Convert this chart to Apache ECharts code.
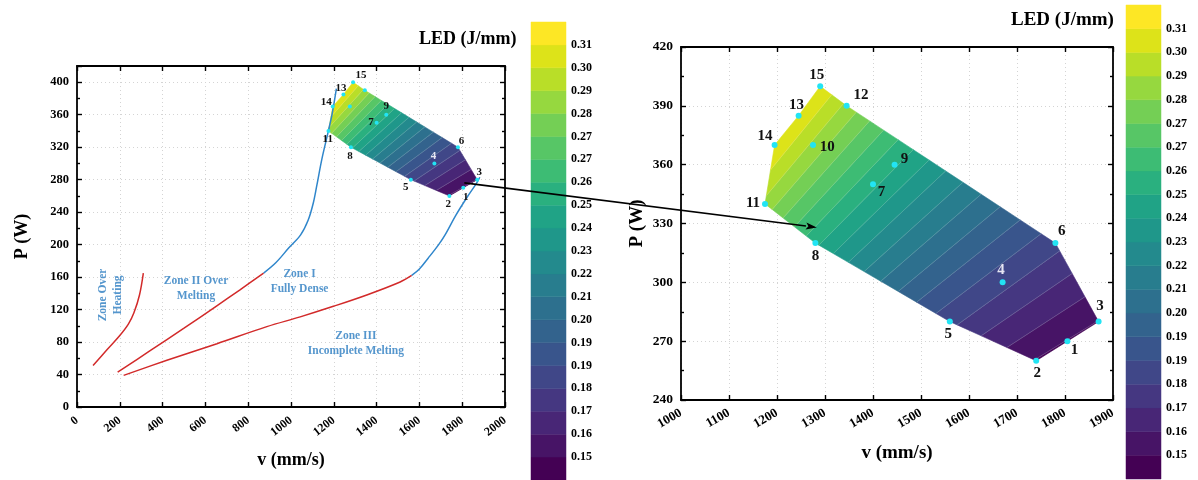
<!DOCTYPE html>
<html>
<head>
<meta charset="utf-8">
<title>LED process window</title>
<script src="https://cdn.jsdelivr.net/npm/echarts/dist/echarts.min.js"></script>
<style>
  html, body { margin: 0; padding: 0; background: #fff; }
  #chart { width: 1198px; height: 480px; }
</style>
</head>
<body>
<div id="chart"></div>
<script>
// ---- measured parameter sets: scan speed v (mm/s) and laser power P (W) ----
const pointIds = [1, 2, 3, 4, 5, 6, 7, 8, 9, 10, 11, 12, 13, 14, 15];
const speed = [1805, 1740, 1870, 1670, 1560, 1780, 1400, 1280, 1445, 1275, 1175, 1345, 1245, 1195, 1290];
const power = [270, 260, 280, 300, 280, 320, 350, 320, 360, 370, 340, 390, 385, 370, 400];
// outline of the sampled region, walked clockwise by point id
const hullIds = [15, 12, 6, 3, 1, 2, 5, 8, 11, 14, 13];

// ---- LED colour scale ----
const ledTickLabels = ['0.15', '0.16', '0.17', '0.18', '0.19', '0.19', '0.20', '0.21', '0.22', '0.23',
                       '0.24', '0.25', '0.26', '0.27', '0.27', '0.28', '0.29', '0.30', '0.31'];
const ledFirstLevel = 0.15;
const ledLastLevel = 0.31;

// ---- process-window boundaries [v, P] ----
const overHeatingCurve = [[75, 51], [140, 70.5], [200, 88], [240, 102], [266, 116], [292, 138], [310, 165]];
const overMeltingCurve = [[190, 43], [340, 69], [500, 97], [650, 124], [760, 144], [872, 165]];
const denseUpperCurve = [[872, 165], [930, 178], [990, 196], [1045, 212], [1080, 230], [1103, 250],
                         [1120, 272], [1144, 305], [1172, 337], [1193, 362], [1212, 392]];
const incompleteCurve = [[218, 39], [420, 57.5], [654, 78], [887, 99], [1043, 111], [1198, 124],
                         [1354, 138], [1510, 154], [1564, 162]];
const denseLowerCurve = [[1564, 162], [1600, 170], [1640, 183], [1690, 200], [1720, 212], [1770, 236],
                         [1822, 258], [1868, 276], [1882, 283]];

// ---- zone annotations ----
const zoneTexts = ['Zone Over\nHeating', 'Zone II Over\nMelting', 'Zone I\nFully Dense', 'Zone III\nIncomplete Melting'];
const zoneSpeed = [159, 556, 1040, 1303];
const zonePower = [138, 146, 154, 78];

// ---- zoom arrow: from the overview to the detailed view ----
const arrowFrom = [1810, 276];
const arrowTo = [1283, 328];

// ================= styling =================
const SERIF = '"Liberation Serif", "Times New Roman", serif';
const BLUE_LINE = '#2f86cb';
const BLUE_TEXT = '#2b7cc0';
const RED_LINE = '#d22a2a';
const CYAN = '#22e4f4';
const viridis = ['#440154', '#471365', '#482475', '#463480', '#414487', '#3b528b', '#355f8d', '#2f6c8e',
                 '#2a788e', '#25848e', '#21918c', '#1e9c89', '#22a884', '#2fb47c', '#44bf70', '#5ec962',
                 '#7ad151', '#9bd93c', '#bddf26', '#dfe318', '#fde725'];

// label placement per point id (pixel offsets from the marker centre)
const overviewLabelOffset = {1: [2.5, 9.5], 2: [-1, 8.5], 3: [2, -8], 4: [-1, -7.6], 5: [-5, 7], 6: [3.5, -6.5],
  7: [-5.5, -1], 8: [-1, 9.2], 9: [0, -8.2], 11: [-0.7, 8.5], 13: [-2.4, -6], 14: [-6.5, -4.5], 15: [8, -7.3]};
const detailLabelOffset = {1: [7, 9], 2: [1, 12.8], 3: [1.5, -15], 4: [-1.5, -12.2], 5: [-1.5, 12.5], 6: [6.3, -11.5],
  7: [8.6, 7.5], 8: [0, 13.5], 9: [9.8, -5.5], 10: [14.3, 1.8], 11: [-12, -0.7], 12: [14.4, -11], 13: [-2, -10.5],
  14: [-9.5, -9], 15: [-3.5, -10.7]};

// ================= helpers =================
function hexToRgb(h) { return [parseInt(h.slice(1, 3), 16), parseInt(h.slice(3, 5), 16), parseInt(h.slice(5, 7), 16)]; }
function viridisAt(t) {
  const x = Math.max(0, Math.min(1, t)) * (viridis.length - 1);
  const i = Math.min(viridis.length - 2, Math.floor(x));
  const f = x - i;
  const a = hexToRgb(viridis[i]), b = hexToRgb(viridis[i + 1]);
  const c = a.map((v, k) => Math.round(v + (b[k] - v) * f));
  return 'rgb(' + c.join(',') + ')';
}

// level edges: labelled levels plus one band beyond each end
const levelStep = (ledLastLevel - ledFirstLevel) / (ledTickLabels.length - 1);
const bandCount = ledTickLabels.length + 1;
const levelEdges = [];
for (let k = 0; k <= bandCount; k++) levelEdges.push(ledFirstLevel + (k - 1) * levelStep);
const bandColors = [];
for (let k = 0; k < bandCount; k++) bandColors.push(viridisAt(k / (bandCount - 1)));

const idx = id => pointIds.indexOf(id);
const hullPoly = hullIds.map(id => [speed[idx(id)], power[idx(id)]]);

// keep the part of a polygon where a*v + b*P >= 0
function clipHalfPlane(poly, a, b) {
  const out = [];
  for (let i = 0; i < poly.length; i++) {
    const p = poly[i], q = poly[(i + 1) % poly.length];
    const fp = a * p[0] + b * p[1], fq = a * q[0] + b * q[1];
    if (fp >= 0) out.push(p);
    if ((fp >= 0) !== (fq >= 0)) {
      const t = fp / (fp - fq);
      out.push([p[0] + t * (q[0] - p[0]), p[1] + t * (q[1] - p[1])]);
    }
  }
  return out;
}
// LED = P / v, so each band is the wedge lo <= P/v <= hi
const bandPolys = [];
for (let k = 0; k < bandCount; k++) {
  let poly = clipHalfPlane(hullPoly, -levelEdges[k], 1);
  poly = clipHalfPlane(poly, levelEdges[k + 1], -1);
  bandPolys.push(poly);
}
// iso-LED lines inside the region
const contourSegs = [];
for (let k = 1; k < bandCount; k++) {
  const c = levelEdges[k];
  const hits = [];
  for (let i = 0; i < hullPoly.length; i++) {
    const p = hullPoly[i], q = hullPoly[(i + 1) % hullPoly.length];
    const fp = p[1] - c * p[0], fq = q[1] - c * q[0];
    if ((fp >= 0) !== (fq >= 0)) {
      const t = fp / (fp - fq);
      hits.push([p[0] + t * (q[0] - p[0]), p[1] + t * (q[1] - p[1])]);
    }
  }
  hits.sort((a, b) => a[0] - b[0]);
  for (let j = 0; j + 1 < hits.length; j += 2) contourSegs.push([hits[j], hits[j + 1]]);
}

// ================= axes =================
const axisLine = { onZero: false, lineStyle: { color: '#000', width: 1.8 } };
const tickStyle = { color: '#000', width: 1.4 };
const gridLine = { show: true, lineStyle: { color: '#d4d4d4', width: 1, type: [1, 3] } };
const tickFont = size => ({ fontFamily: SERIF, fontWeight: 'bold', fontSize: size, color: '#000' });
const nameFont = size => ({ fontFamily: SERIF, fontWeight: 'bold', fontSize: size, color: '#000' });

function xPair(grid, min, max, interval, rotate, fontSize, nameSize, nameGap) {
  return [
    { gridIndex: grid, type: 'value', position: 'bottom', min, max, interval,
      axisLine, axisTick: { inside: true, length: 5, lineStyle: tickStyle },
      axisLabel: Object.assign({ rotate, margin: 12, formatter: v => String(v) }, tickFont(fontSize)),
      splitLine: gridLine,
      name: 'v (mm/s)', nameLocation: 'middle', nameGap, nameTextStyle: nameFont(nameSize) },
    { gridIndex: grid, type: 'value', position: 'top', min, max, interval,
      axisLine, axisTick: { inside: true, length: 5, lineStyle: tickStyle },
      axisLabel: { show: false }, splitLine: { show: false } }
  ];
}
function yPair(grid, min, max, interval, fontSize, nameSize, nameGap, hideTop) {
  const minorTick = { show: true, splitNumber: 2, length: 3, lineStyle: tickStyle };
  return [
    { gridIndex: grid, type: 'value', position: 'left', min, max, interval,
      axisLine, axisTick: { inside: true, length: 5, lineStyle: tickStyle }, minorTick,
      axisLabel: Object.assign({ margin: 8, formatter: v => (hideTop && v === max) ? '' : String(v) }, tickFont(fontSize)),
      splitLine: gridLine,
      name: 'P (W)', nameLocation: 'middle', nameGap, nameTextStyle: nameFont(nameSize) },
    { gridIndex: grid, type: 'value', position: 'right', min, max, interval,
      axisLine, axisTick: { inside: true, length: 5, lineStyle: tickStyle }, minorTick,
      axisLabel: { show: false }, splitLine: { show: false } }
  ];
}
function colorbarAxes(grid) {
  return {
    x: { gridIndex: grid, type: 'value', min: 0, max: 1, show: false },
    y: { gridIndex: grid, type: 'value', min: 0, max: bandCount, interval: 1, position: 'right',
         axisLine: { show: false }, axisTick: { show: false }, splitLine: { show: false },
         axisLabel: Object.assign({ margin: 5,
           formatter: v => (v >= 1 && v <= ledTickLabels.length) ? ledTickLabels[v - 1] : '' }, tickFont(12)) }
  };
}
const cbL = colorbarAxes(2), cbR = colorbarAxes(3);

// ================= series builders =================
function contourSeries(xi, yi) {
  return {
    type: 'custom', xAxisIndex: xi, yAxisIndex: yi, clip: true, z: 2,
    data: bandPolys.map((p, k) => [k, k]),
    renderItem: (params, api) => {
      const k = params.dataIndex;
      const poly = bandPolys[k];
      if (poly.length < 3) return null;
      return { type: 'polygon', shape: { points: poly.map(p => api.coord(p)) },
               style: { fill: bandColors[k], stroke: bandColors[k], lineWidth: 0.6 } };
    }
  };
}
function contourLineSeries(xi, yi) {
  return {
    type: 'custom', xAxisIndex: xi, yAxisIndex: yi, clip: true, z: 3,
    data: contourSegs.map((s, k) => [k, k]),
    renderItem: (params, api) => {
      const s = contourSegs[params.dataIndex];
      const a = api.coord(s[0]), b = api.coord(s[1]);
      return { type: 'line', shape: { x1: a[0], y1: a[1], x2: b[0], y2: b[1] },
               style: { stroke: 'rgba(235,235,235,0.3)', lineWidth: 0.6 } };
    }
  };
}
function pointSeries(xi, yi, size, offsets, fontSize) {
  return {
    type: 'scatter', xAxisIndex: xi, yAxisIndex: yi, z: 5,
    symbolSize: size, itemStyle: { color: CYAN, opacity: 1 },
    label: { formatter: p => p.name, fontFamily: SERIF, fontWeight: 'bold', fontSize, color: '#111', position: 'inside' },
    data: pointIds.map((id, i) => {
      const off = offsets[id];
      return {
        name: String(id), value: [speed[i], power[i]],
        label: off ? { show: true, offset: off, color: id === 4 ? '#e6e6f2' : '#111' } : { show: false }
      };
    })
  };
}
function curveSeries(data, color) {
  return { type: 'line', xAxisIndex: 0, yAxisIndex: 0, data, smooth: 0.35, showSymbol: false, z: 4,
           lineStyle: { color, width: 1.5 } };
}
function colorbarSeries(xi, yi) {
  return {
    type: 'custom', xAxisIndex: xi, yAxisIndex: yi, z: 2,
    data: bandColors.map((c, k) => [k, k]),
    renderItem: (params, api) => {
      const k = params.dataIndex;
      const a = api.coord([0, k]), b = api.coord([1, k + 1]);
      return { type: 'rect', shape: { x: a[0], y: b[1], width: b[0] - a[0], height: a[1] - b[1] },
               style: { fill: bandColors[k], stroke: bandColors[k], lineWidth: 0.5 } };
    }
  };
}

const [lxB, lxT] = xPair(0, 0, 2000, 200, 38, 12, 18, 44);
const [lyL, lyR] = yPair(0, 0, 420, 40, 12.5, 18, 46, true);
const [rxB, rxT] = xPair(1, 1000, 1900, 100, 30, 13, 19, 44);
const [ryL, ryR] = yPair(1, 240, 420, 30, 13.5, 19, 34, false);

const option = {
  animation: false,
  backgroundColor: '#fff',
  textStyle: { fontFamily: SERIF },
  title: [
    { text: 'LED (J/mm)', left: 414, top: 25, textStyle: { fontFamily: SERIF, fontWeight: 'bold', fontSize: 18, color: '#000' } },
    { text: 'LED (J/mm)', left: 1006, top: 6, textStyle: { fontFamily: SERIF, fontWeight: 'bold', fontSize: 19, color: '#000' } }
  ],
  grid: [
    { left: 77, top: 66, width: 428, height: 341 },
    { left: 681, top: 47, width: 432, height: 353 },
    { left: 531, top: 22, width: 35, height: 458 },
    { left: 1126, top: 5, width: 35, height: 474 }
  ],
  xAxis: [lxB, lxT, rxB, rxT, cbL.x, cbR.x],
  yAxis: [lyL, lyR, ryL, ryR, cbL.y, cbR.y],
  series: [
    // overview
    contourSeries(0, 0),
    contourLineSeries(0, 0),
    curveSeries(overHeatingCurve, RED_LINE),
    curveSeries(overMeltingCurve, RED_LINE),
    curveSeries(incompleteCurve, RED_LINE),
    curveSeries(denseUpperCurve, BLUE_LINE),
    curveSeries(denseLowerCurve, BLUE_LINE),
    {
      type: 'scatter', xAxisIndex: 0, yAxisIndex: 0, symbolSize: 0, z: 6,
      label: { show: true, position: 'inside', formatter: p => p.name, fontFamily: SERIF, fontWeight: 'bold',
               fontSize: 11.5, lineHeight: 15, color: BLUE_TEXT, align: 'center' },
      data: zoneTexts.map((t, i) => ({ name: t, value: [zoneSpeed[i], zonePower[i]],
        label: i === 0 ? { rotate: 90 } : {} }))
    },
    pointSeries(0, 0, 4, overviewLabelOffset, 11),
    // detailed view
    contourSeries(2, 2),
    contourLineSeries(2, 2),
    pointSeries(2, 2, 6, detailLabelOffset, 15),
    // colour bars
    colorbarSeries(4, 4),
    colorbarSeries(5, 5)
  ]
};

const chart = echarts.init(document.getElementById('chart'), null, { renderer: 'canvas' });
chart.setOption(option);

// arrow linking the overview region to the detailed view
const overviewIdx = 8, detailIdx = 11;
const p0 = chart.convertToPixel({ seriesIndex: overviewIdx }, arrowFrom);
const p1 = chart.convertToPixel({ seriesIndex: detailIdx }, arrowTo);
const dx = p1[0] - p0[0], dy = p1[1] - p0[1];
const len = Math.hypot(dx, dy);
const ux = dx / len, uy = dy / len;
const headLen = 11, headHalf = 3.6;
const bx = p1[0] - ux * headLen, by = p1[1] - uy * headLen;
chart.setOption({
  graphic: [
    { type: 'line', z: 100, shape: { x1: p0[0], y1: p0[1], x2: bx, y2: by },
      style: { stroke: '#000', lineWidth: 1.6 } },
    { type: 'polygon', z: 100, shape: { points: [
        [p1[0], p1[1]],
        [bx - uy * headHalf, by + ux * headHalf],
        [bx + ux * 2.5, by + uy * 2.5],
        [bx + uy * headHalf, by - ux * headHalf]] },
      style: { fill: '#000' } }
  ]
});
</script>
</body>
</html>
